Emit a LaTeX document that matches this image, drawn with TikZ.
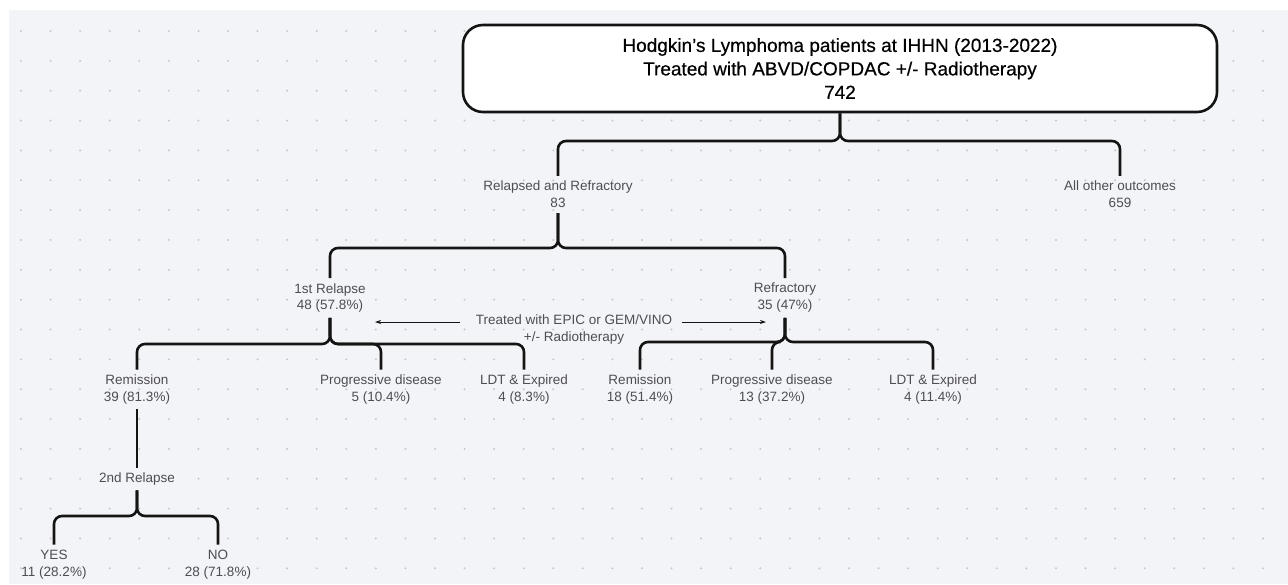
\documentclass[tikz,border=0pt]{standalone}
\usepackage{fontspec}
\setmainfont{Liberation Sans}[Ligatures=Common]
\usetikzlibrary{arrows.meta}
\definecolor{bgc}{RGB}{243,244,247}
\definecolor{dotc}{RGB}{198,199,204}
\definecolor{labc}{RGB}{78,78,82}
\definecolor{linec}{RGB}{20,20,20}
\begin{document}
\begin{tikzpicture}[x=1pt,y=-1pt,
  conn/.style={line width=2.6pt, draw=linec, rounded corners=8pt},
  lab/.style={font=\fontsize{13.5}{17}\selectfont, text=labc, align=center, inner xsep=1pt, inner ysep=5pt},
  titlebox/.style={draw=linec, line width=2.6pt, fill=white, rounded corners=20pt, minimum width=754pt, minimum height=87pt, align=center, text=black, font=\fontsize{19}{23.5}\selectfont\addfontfeature{FakeBold=0.4}},
  thinarr/.style={line width=0.9pt, draw=linec, -{Stealth[length=6pt,width=4pt]}}]

\useasboundingbox (0,0) rectangle (1288,584);
\fill[white] (0,0) rectangle (1288,584);
\fill[bgc] (9,10) rectangle (1288,584);
\foreach \i in {0,...,42}{\foreach \j in {0,...,18}{\fill[dotc] ({21+\i*29.57},{31+\j*29.85}) circle (1.1pt);}}

% nodes
\node[titlebox] (top) at (840,68.5) {Hodgkin's Lymphoma patients at IHHN (2013-2022)\\Treated with ABVD/COPDAC +/- Radiotherapy\\742};
\node[lab] (rel) at (558,194.5) {Relapsed and Refractory\\83};
\node[lab] (oth) at (1120,194.5) {All other outcomes\\659};
\node[lab] (rel1) at (330,298) {1st Relapse\\48 (57.8\%)};
\node[lab] (ref) at (785,298) {Refractory\\35 (47\%)};
\node[lab] (treat) at (574,330) {Treated with EPIC or GEM/VINO\\+/- Radiotherapy};
\node[lab] (rem1) at (137,389.5) {Remission\\39 (81.3\%)};
\node[lab] (pd1) at (381,389.5) {Progressive disease\\5 (10.4\%)};
\node[lab] (ldt1) at (524,389.5) {LDT \& Expired\\4 (8.3\%)};
\node[lab] (rem2) at (640,389.5) {Remission\\18 (51.4\%)};
\node[lab] (pd2) at (772,389.5) {Progressive disease\\13 (37.2\%)};
\node[lab] (ldt2) at (933,389.5) {LDT \& Expired\\4 (11.4\%)};
\node[lab] (sr) at (137,479) {2nd Relapse};
\node[lab] (yes) at (54,564.5) {YES\\11 (28.2\%)};
\node[lab] (no) at (218,564.5) {NO\\28 (71.8\%)};

% junctions
\coordinate (j1) at (840,141);
\coordinate (j2) at (558,248);
\coordinate (j3) at (330,344);
\coordinate (j4) at (785,342);
\coordinate (j5) at (137,516);

\draw[conn] (top.south) -- (j1) -| (rel.north);
\draw[conn] (top.south) -- (j1) -| (oth.north);
\draw[conn] (rel.south) -- (j2) -| (rel1.north);
\draw[conn] (rel.south) -- (j2) -| (ref.north);
\draw[conn] (rel1.south) -- (j3) -| (rem1.north);
\draw[conn] (rel1.south) -- (j3) -| (pd1.north);
\draw[conn] (rel1.south) -- (j3) -| (ldt1.north);
\draw[conn] (ref.south) -- (j4) -| (rem2.north);
\draw[conn] (ref.south) -- (j4) -| (pd2.north);
\draw[conn] (ref.south) -- (j4) -| (ldt2.north);
\draw[conn] (rem1.south) -- (sr.north);
\draw[conn] (sr.south) -- (j5) -| (yes.north);
\draw[conn] (sr.south) -- (j5) -| (no.north);

% annotation arrows
\coordinate (aLs) at (460,322);
\coordinate (aLe) at (375,322);
\coordinate (aRs) at (682,322);
\coordinate (aRe) at (766,322);
\draw[thinarr] (aLs) -- (aLe);
\draw[thinarr] (aRs) -- (aRe);
\end{tikzpicture}
\end{document}
